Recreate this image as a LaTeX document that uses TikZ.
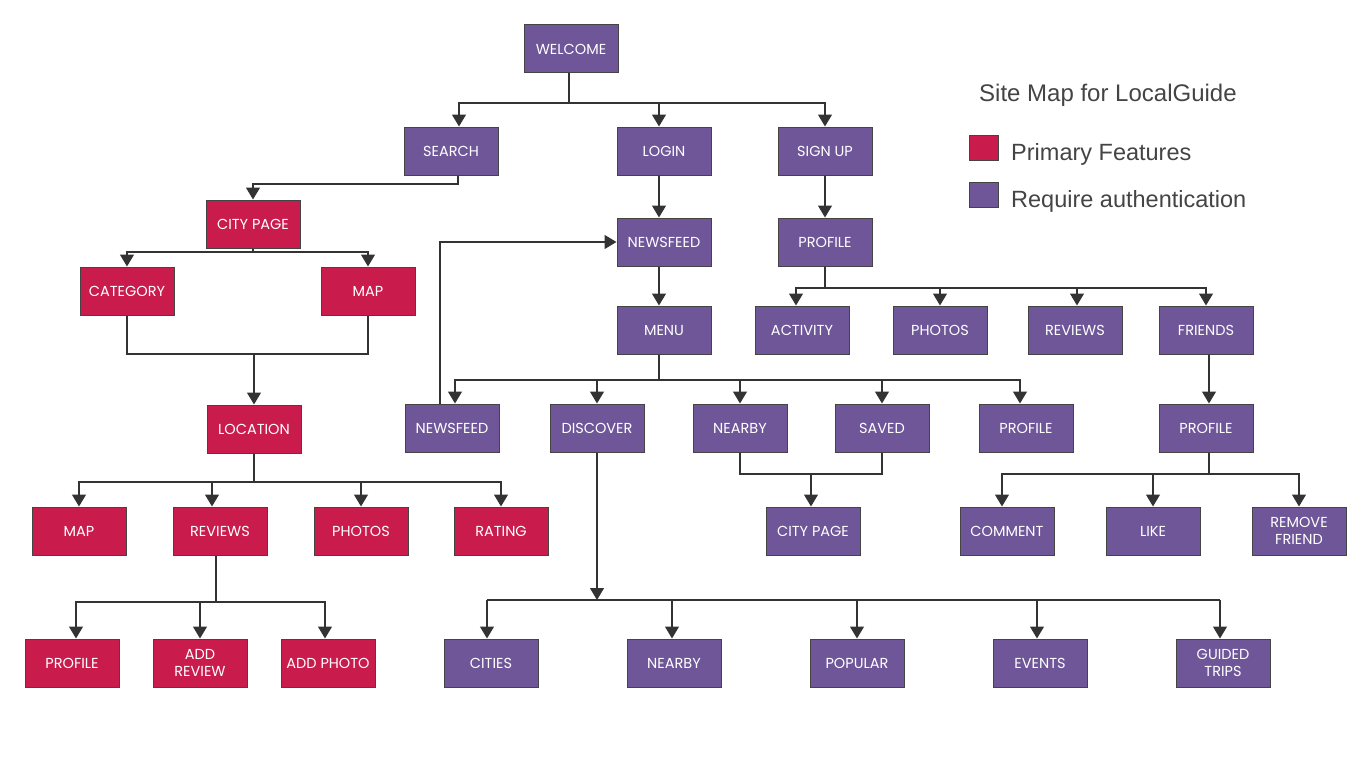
\documentclass[tikz,border=0pt]{standalone}
\usepackage{fontspec}
\setmainfont{Liberation Sans}
\newfontfamily\boxfont{Poppins}
\usetikzlibrary{arrows.meta}
\definecolor{pur}{HTML}{6E5698}
\definecolor{red}{HTML}{C91C4C}
\definecolor{edge}{HTML}{333333}
\definecolor{bord}{HTML}{444444}
\definecolor{legtext}{HTML}{444444}
\tikzset{
  box/.style={rectangle,minimum width=94pt,minimum height=48pt,draw=bord,line width=1pt,
    text=white,font=\boxfont\fontsize{14.5}{17}\selectfont,align=center,inner sep=1pt},
  pbox/.style={box,fill=pur},
  rbox/.style={box,fill=red},
  ln/.style={draw=edge,line width=1.2pt},
  arr/.style={ln,-{Triangle[width=14pt,length=12pt]}},
  leg/.style={font=\fontsize{23.5}{27}\selectfont,text=legtext,anchor=west,inner sep=0pt},
  legsq/.style={rectangle,minimum width=29pt,minimum height=25pt,draw=bord,line width=0.8pt,inner sep=0pt}
}
\begin{document}
\begin{tikzpicture}[x=1pt,y=-1pt]
\useasboundingbox (0,0) rectangle (1366,768);
% nodes
\node[pbox] (welcome) at (571,49) {WELCOME};
\node[pbox] (search) at (451,151) {SEARCH};
\node[pbox] (login) at (664,151) {LOGIN};
\node[pbox] (signup) at (825,151) {SIGN UP};
\node[rbox] (citypage) at (253,224) {CITY PAGE};
\node[pbox] (newsfeed) at (664,242) {NEWSFEED};
\node[pbox] (profile) at (825,242) {PROFILE};
\node[rbox] (category) at (127,291) {CATEGORY};
\node[rbox] (map) at (368,291) {MAP};
\node[pbox] (menu) at (664,330) {MENU};
\node[pbox] (activity) at (802,330) {ACTIVITY};
\node[pbox] (photos) at (940,330) {PHOTOS};
\node[pbox] (reviews) at (1075,330) {REVIEWS};
\node[pbox] (friends) at (1206,330) {FRIENDS};
\node[rbox] (location) at (254,429) {LOCATION};
\node[pbox] (newsfeedb) at (452,428) {NEWSFEED};
\node[pbox] (discover) at (597,428) {DISCOVER};
\node[pbox] (nearby) at (740,428) {NEARBY};
\node[pbox] (saved) at (882,428) {SAVED};
\node[pbox] (profileb) at (1026,428) {PROFILE};
\node[pbox] (profilec) at (1206,428) {PROFILE};
\node[rbox] (mapb) at (79,531) {MAP};
\node[rbox] (reviewsb) at (220,531) {REVIEWS};
\node[rbox] (photosb) at (361,531) {PHOTOS};
\node[rbox] (rating) at (501,531) {RATING};
\node[pbox] (citypageb) at (813,531) {CITY PAGE};
\node[pbox] (comment) at (1007,531) {COMMENT};
\node[pbox] (like) at (1153,531) {LIKE};
\node[pbox] (remove) at (1299,531) {REMOVE\\FRIEND};
\node[rbox] (profiled) at (72,663) {PROFILE};
\node[rbox] (addreview) at (200,663) {ADD\\REVIEW};
\node[rbox] (addphoto) at (328,663) {ADD PHOTO};
\node[pbox] (cities) at (491,663) {CITIES};
\node[pbox] (nearbyb) at (674,663) {NEARBY};
\node[pbox] (popular) at (857,663) {POPULAR};
\node[pbox] (events) at (1040,663) {EVENTS};
\node[pbox] (guided) at (1223,663) {GUIDED\\TRIPS};
% legend
\node[leg,font=\fontsize{24}{28}\selectfont] (title) at (979,95) {Site Map for LocalGuide};
\node[legsq,fill=red] (sqr) at (984,148) {};
\node[legsq,fill=pur] (sqp) at (984,195) {};
\node[leg] (lp) at (1011,154) {Primary Features};
\node[leg] (lr) at (1011,201) {Require authentication};
% bus coordinates
\coordinate (b1) at (0,103);
\coordinate (b2) at (0,184);
\coordinate (b3) at (0,252);
\coordinate (b4) at (0,354);
\coordinate (b5) at (0,482);
\coordinate (b6) at (0,602);
\coordinate (b7) at (0,380);
\coordinate (b8) at (0,474);
\coordinate (b9) at (0,600);
\coordinate (b10) at (0,288);
\coordinate (b11) at (0,474);
\coordinate (fb) at (440,242);
% welcome
\draw[ln] ([xshift=-2pt]welcome.south) -- ([xshift=-2pt]welcome.south |- b1) coordinate (w1);
\draw[arr] (w1) -| ([xshift=8pt]search.north);
\draw[arr] (w1) -| ([xshift=-5pt]login.north);
\draw[arr] (w1) -| (signup.north);
% search -> city page
\draw[arr] ([xshift=7pt]search.south) -- ([xshift=7pt]search.south |- b2) -| (citypage.north);
% city page
\draw[ln] (citypage.south) -- (citypage.south |- b3);
\draw[arr] (citypage.south |- b3) -| (category.north);
\draw[arr] (citypage.south |- b3) -| (map.north);
% merge to location
\draw[ln] (category.south) |- (location.north |- b4) -| (map.south);
\draw[arr] (location.north |- b4) -- (location.north);
% location children
\draw[ln] (location.south) -- (location.south |- b5);
\draw[arr] (location.south |- b5) -| (mapb.north);
\draw[arr] (location.south |- b5) -| ([xshift=-8pt]reviewsb.north);
\draw[arr] (location.south |- b5) -| (photosb.north);
\draw[arr] (location.south |- b5) -| (rating.north);
% reviews children
\draw[ln] ([xshift=-4pt]reviewsb.south) -- ([xshift=-4pt]reviewsb.south |- b6) coordinate (r1);
\draw[arr] (r1) -| ([xshift=4pt]profiled.north);
\draw[arr] (r1) -| (addreview.north);
\draw[arr] (r1) -| ([xshift=-3pt]addphoto.north);
% login chain
\draw[arr] ([xshift=-5pt]login.south) -- ([xshift=-5pt]newsfeed.north);
\draw[arr] ([xshift=-5pt]newsfeed.south) -- ([xshift=-5pt]menu.north);
% menu children
\draw[ln] ([xshift=-5pt]menu.south) -- ([xshift=-5pt]menu.south |- b7) coordinate (m1);
\draw[arr] (m1) -| ([xshift=3pt]newsfeedb.north);
\draw[arr] (m1) -| (discover.north);
\draw[arr] (m1) -| (nearby.north);
\draw[arr] (m1) -| (saved.north);
\draw[arr] (m1) -| ([xshift=-6pt]profileb.north);
% newsfeed feedback
\draw[arr] (newsfeedb.north -| fb) -- (fb) -- (newsfeed.west);
% nearby+saved -> city page
\draw[ln] (nearby.south) |- ([xshift=-2pt]citypageb.north |- b8) -| (saved.south);
\draw[arr] ([xshift=-2pt]citypageb.north |- b8) -- ([xshift=-2pt]citypageb.north);
% discover children
\draw[arr] (discover.south) -- (discover.south |- b9);
\draw[arr] ([xshift=-4pt]cities.north |- b9) -- ([xshift=-4pt]cities.north);
\draw[ln] ([xshift=-4pt]cities.north |- b9) -- ([xshift=-3pt]guided.north |- b9);
\draw[arr] ([xshift=-2pt]nearbyb.north |- b9) -- ([xshift=-2pt]nearbyb.north);
\draw[arr] (popular.north |- b9) -- (popular.north);
\draw[arr] ([xshift=-3pt]events.north |- b9) -- ([xshift=-3pt]events.north);
\draw[arr] ([xshift=-3pt]guided.north |- b9) -- ([xshift=-3pt]guided.north);
% sign up chain
\draw[arr] (signup.south) -- (profile.north);
\draw[ln] (profile.south) -- (profile.south |- b10);
\draw[arr] (profile.south |- b10) -| ([xshift=-6pt]activity.north);
\draw[arr] (profile.south |- b10) -| (photos.north);
\draw[arr] (profile.south |- b10) -| ([xshift=2pt]reviews.north);
\draw[arr] (profile.south |- b10) -| (friends.north);
\draw[arr] ([xshift=3pt]friends.south) -- ([xshift=3pt]profilec.north);
\draw[ln] ([xshift=3pt]profilec.south) -- ([xshift=3pt]profilec.south |- b11) coordinate (p1);
\draw[arr] (p1) -| ([xshift=-5pt]comment.north);
\draw[arr] (p1) -| (like.north);
\draw[arr] (p1) -| (remove.north);
\end{tikzpicture}
\end{document}
